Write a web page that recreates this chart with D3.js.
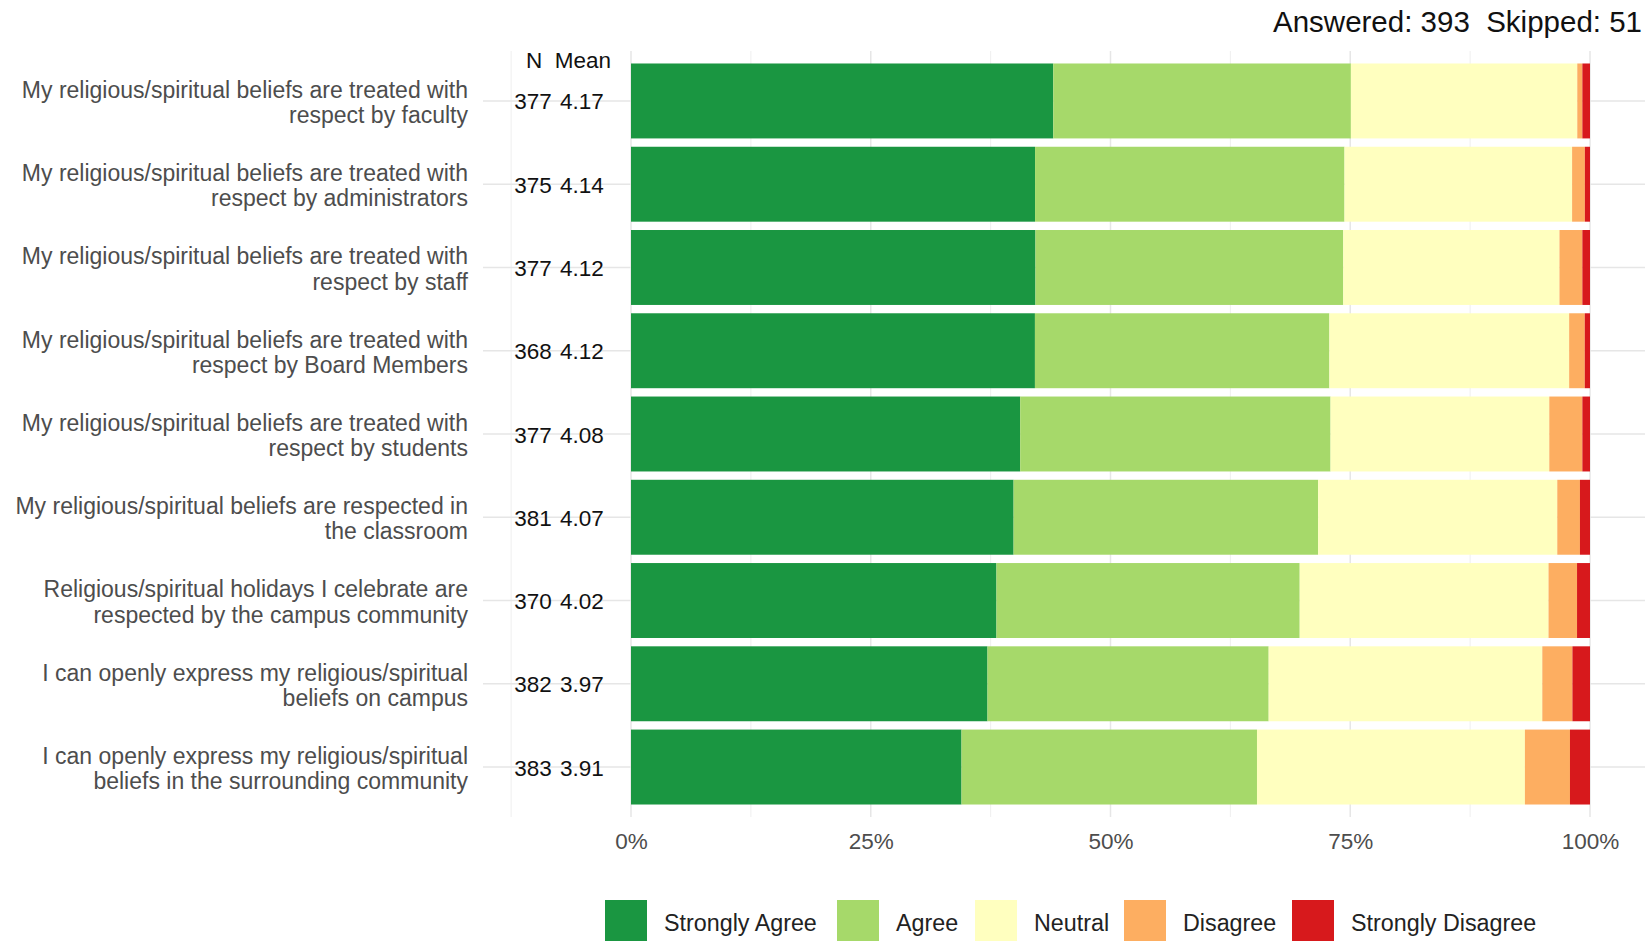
<!DOCTYPE html>
<html>
<head>
<meta charset="utf-8">
<script src="https://cdn.jsdelivr.net/npm/d3@7"></script>
<style>
  html, body { margin: 0; padding: 0; background: #ffffff; }
  svg { display: block; font-family: "Liberation Sans", Arial, sans-serif; }
  text { white-space: pre; }
</style>
</head>
<body>
<svg id="chart" width="1650" height="941"></svg>
<script>
// ---------- data ----------
const categories = [
  "My religious/spiritual beliefs are treated with\nrespect by faculty",
  "My religious/spiritual beliefs are treated with\nrespect by administrators",
  "My religious/spiritual beliefs are treated with\nrespect by staff",
  "My religious/spiritual beliefs are treated with\nrespect by Board Members",
  "My religious/spiritual beliefs are treated with\nrespect by students",
  "My religious/spiritual beliefs are respected in\nthe classroom",
  "Religious/spiritual holidays I celebrate are\nrespected by the campus community",
  "I can openly express my religious/spiritual\nbeliefs on campus",
  "I can openly express my religious/spiritual\nbeliefs in the surrounding community"
];
const nLabels    = ["377", "375", "377", "368", "377", "381", "370", "382", "383"];
const meanLabels = ["4.17", "4.14", "4.12", "4.12", "4.08", "4.07", "4.02", "3.97", "3.91"];

// response counts per level
const stronglyAgree    = [166, 158, 159, 155, 153, 152, 141, 142, 132];
const agree            = [117, 121, 121, 113, 122, 121, 117, 112, 118];
const neutral          = [ 89,  89,  85,  92,  86,  95,  96, 109, 107];
const disagree         = [  2,   5,   9,   6,  13,   9,  11,  12,  18];
const stronglyDisagree = [  3,   2,   3,   2,   3,   4,   5,   7,   8];

const levels = ["Strongly Agree", "Agree", "Neutral", "Disagree", "Strongly Disagree"];
const levelColors = ["#1a9641", "#a6d96a", "#ffffbf", "#fdae61", "#d7191c"];
const seriesValues = [stronglyAgree, agree, neutral, disagree, stronglyDisagree];

const xTicks = [0, 0.25, 0.5, 0.75, 1];
const xTickLabels = ["0%", "25%", "50%", "75%", "100%"];
const xMinorTicks = [-0.125, 0.125, 0.375, 0.625, 0.875];

const titleText = "Answered: 393  Skipped: 51";

// ---------- build table ----------
const rows = categories.map((c, i) => {
  const row = { cat: c };
  const total = seriesValues.reduce((s, arr) => s + arr[i], 0);
  levels.forEach((l, k) => { row[l] = seriesValues[k][i] / total; });
  return row;
});
const stacked = d3.stack().keys(levels)(rows);

// ---------- layout ----------
const svg = d3.select("#chart");
const panelLeft = 483, panelRight = 1645, panelTop = 51, panelBottom = 817;

const x = d3.scaleLinear().domain([0, 1]).range([631, 1590]);
const y = d3.scaleBand().domain(categories)
  .range([panelTop, panelBottom])
  .paddingInner(0.1).paddingOuter(0.15);
const color = d3.scaleOrdinal().domain(levels).range(levelColors);

// gridlines
const grid = svg.append("g");
grid.selectAll("line.minor").data(xMinorTicks).join("line")
  .attr("x1", d => x(d)).attr("x2", d => x(d))
  .attr("y1", panelTop).attr("y2", panelBottom)
  .attr("stroke", "#efefef").attr("stroke-width", 1);
grid.selectAll("line.major").data(xTicks).join("line")
  .attr("x1", d => x(d)).attr("x2", d => x(d))
  .attr("y1", panelTop).attr("y2", panelBottom)
  .attr("stroke", "#e6e6e6").attr("stroke-width", 1.5);
grid.selectAll("line.hgrid").data(categories).join("line")
  .attr("x1", panelLeft).attr("x2", panelRight)
  .attr("y1", d => y(d) + y.bandwidth() / 2).attr("y2", d => y(d) + y.bandwidth() / 2)
  .attr("stroke", "#e6e6e6").attr("stroke-width", 1.5);

// bars
svg.append("g").selectAll("g").data(stacked).join("g")
  .attr("fill", d => color(d.key))
  .selectAll("rect").data(d => d).join("rect")
  .attr("x", d => x(d[0]))
  .attr("width", d => Math.max(0, x(d[1]) - x(d[0])))
  .attr("y", d => y(d.data.cat))
  .attr("height", y.bandwidth());

// category labels
const labG = svg.append("g").attr("font-size", 23).attr("fill", "#4d4d4d").attr("text-anchor", "end");
categories.forEach(c => {
  const lines = c.split("\n");
  const cy = y(c) + y.bandwidth() / 2 + 1.5;
  const lh = 25.3;
  lines.forEach((ln, j) => {
    labG.append("text")
      .attr("x", 468)
      .attr("y", cy + (j - (lines.length - 1) / 2) * lh)
      .attr("dominant-baseline", "central")
      .text(ln);
  });
});

// N / Mean table
const tab = svg.append("g").attr("font-size", 22.5).attr("fill", "#111").attr("text-anchor", "middle");
tab.append("text").attr("x", 534).attr("y", 60).attr("dominant-baseline", "central").text("N");
tab.append("text").attr("x", 583).attr("y", 60).attr("dominant-baseline", "central").text("Mean");
categories.forEach((c, i) => {
  const cy = y(c) + y.bandwidth() / 2 + 1;
  tab.append("text").attr("x", 533).attr("y", cy).attr("dominant-baseline", "central").text(nLabels[i]);
  tab.append("text").attr("x", 582).attr("y", cy).attr("dominant-baseline", "central").text(meanLabels[i]);
});

// x axis labels
const xAxis = d3.axisBottom(x).tickValues(xTicks)
  .tickFormat((d, i) => xTickLabels[i]).tickSize(0).tickPadding(0);
const ax = svg.append("g").attr("transform", `translate(0, ${panelBottom + 13})`).call(xAxis);
ax.select(".domain").remove();
ax.selectAll("text").attr("font-size", 22.5).attr("fill", "#4d4d4d")
  .attr("font-family", "Liberation Sans, Arial, sans-serif")
  .attr("dy", null).attr("y", 11).attr("dominant-baseline", "central");

// title
svg.append("text").attr("x", 1642).attr("y", 21).attr("text-anchor", "end")
  .attr("dominant-baseline", "central").attr("font-size", 29.5).attr("fill", "#111")
  .attr("xml:space", "preserve")
  .text(titleText);

// legend
const legendKeyX = [605, 837, 975, 1124, 1292];
const leg = svg.append("g");
levels.forEach((l, k) => {
  leg.append("rect").attr("x", legendKeyX[k]).attr("y", 900).attr("width", 42).attr("height", 42)
    .attr("fill", color(l));
  leg.append("text").attr("x", legendKeyX[k] + 59).attr("y", 923)
    .attr("dominant-baseline", "central").attr("font-size", 23.3).attr("fill", "#222")
    .text(l);
});
</script>
</body>
</html>
